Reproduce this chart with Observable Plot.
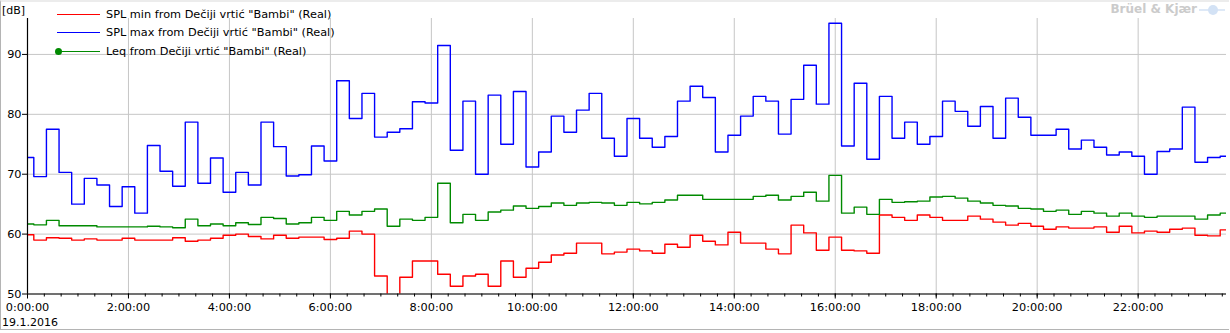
<!DOCTYPE html>
<html>
<head>
<meta charset="utf-8">
<script src="https://cdn.jsdelivr.net/npm/d3@7"></script>
<script src="https://cdn.jsdelivr.net/npm/@observablehq/plot@0.6"></script>
<style>
  html, body { margin: 0; padding: 0; background: #fff; }
  #wrap { position: relative; width: 1230px; height: 333px; overflow: hidden; font-family: "DejaVu Sans", Verdana, sans-serif; font-size: 11px; color: #000; }
  #frame { position: absolute; left: 0; top: 0; width: 1229px; height: 330px; border-left: 1px solid #b4b4b4; border-bottom: 1px solid #b4b4b4; border-top: 2px solid #ececec; box-sizing: border-box; pointer-events: none; }
  .ov { position: absolute; white-space: nowrap; line-height: 1; }
  .leg { position: absolute; left: 57px; height: 14px; display: flex; align-items: center; font-size: 11.3px; }
  .leg .sw { position: relative; width: 43px; height: 0; border-top: 1px solid; margin-right: 6px; }
  .leg .dot { position: absolute; left: -2px; top: -4px; width: 7px; height: 7px; border-radius: 50%; }
  #brand { position: absolute; right: 33px; top: 3px; white-space: nowrap; line-height: 1; font-family: "DejaVu Sans", Verdana, sans-serif; font-weight: bold; font-size: 12px; color: #cbcbcb; }
</style>
</head>
<body>
<div id="wrap">
  <div id="chart"></div>
  <div id="frame"></div>
  <div class="ov" style="left:2px;top:5px;">[dB]</div>
  <div id="legend"></div>
  <div class="ov" style="left:2px;top:317px;">19.1.2016</div>
  <div id="brand">Brüel &amp; Kjær</div>
  <svg class="ov" style="left:1199px;top:4px;" width="26" height="12">
    <line x1="0" y1="6" x2="26" y2="6" stroke="#d3e2f5" stroke-width="1.5"/>
    <circle cx="14" cy="6" r="5" fill="#d3e2f5"/>
  </svg>
</div>
<script>
// ---- data (15-minute values, 19.1.2016, 0:00:00 .. 23:45:00) ----
const startTime = "2016-01-19T00:00:00Z";
const intervalMinutes = 15;

const seriesNames = [
  'SPL min from Dečiji vrtić "Bambi" (Real)',
  'SPL max from Dečiji vrtić "Bambi" (Real)',
  'Leq from Dečiji vrtić "Bambi" (Real)'
];

const splMin = [
  59.9, 59.0, 59.4, 59.3,  59.0, 59.2, 59.0, 59.0,  59.3, 59.0, 59.0, 59.0,  59.4, 58.8, 59.0, 59.3,
  59.8, 60.0, 59.6, 59.2,  59.8, 59.3, 59.5, 59.5,  59.1, 59.3, 60.5, 60.0,  53.0, 48.0, 52.8, 55.5,
  55.5, 53.3, 51.3, 53.0,  53.3, 51.3, 55.5, 52.8,  54.3, 55.3, 56.5, 56.8,  58.5, 58.5, 56.7, 57.0,
  57.5, 57.2, 56.8, 58.3,  57.8, 59.8, 58.8, 58.2,  60.3, 58.5, 58.5, 57.5,  56.7, 61.5, 60.2, 57.3,
  59.5, 57.3, 57.2, 56.8,  63.2, 62.8, 62.3, 63.2,  62.8, 62.3, 62.3, 63.0,  62.5, 62.0, 61.5, 61.8,
  61.3, 60.8, 61.2, 61.0,  61.0, 61.2, 60.3, 61.3,  60.2, 60.5, 60.3, 60.8,  61.0, 59.8, 59.7, 60.7
];

const splMax = [
  72.8, 69.6, 77.5, 70.3,  65.0, 69.3, 68.2, 64.6,  67.9, 63.5, 74.8, 70.5,  68.0, 78.7, 68.5, 72.7,
  67.0, 70.3, 68.2, 78.7,  74.6, 69.7, 69.9, 74.7,  72.2, 85.6, 79.3, 83.5,  76.2, 77.0, 77.6, 82.1,
  81.9, 91.5, 74.0, 82.2,  70.0, 83.2, 75.0, 83.8,  71.2, 73.7, 79.7, 77.0,  80.7, 83.5, 76.0, 73.0,
  79.3, 76.0, 74.5, 76.3,  82.2, 84.7, 82.8, 73.7,  76.5, 79.7, 83.0, 82.2,  76.7, 82.5, 88.2, 81.7,
  95.2, 74.7, 85.2, 72.5,  83.0, 76.0, 78.7, 75.0,  76.3, 82.2, 80.5, 78.0,  81.3, 76.0, 82.7, 79.5,
  76.5, 76.5, 77.5, 74.2,  75.7, 74.5, 73.2, 73.7,  73.0, 70.0, 73.8, 74.2,  81.2, 72.0, 72.8, 73.0
];

const leq = [
  61.7, 61.55, 62.3, 61.4, 61.4, 61.4, 61.2, 61.2,  61.2, 61.2, 61.3, 61.2,  61.05, 62.5, 61.4, 61.7,
  61.4, 61.9, 61.6, 62.8,  62.6, 61.7, 61.9, 62.8,  62.3, 63.8, 63.2, 63.8,  64.2, 61.3, 62.5, 62.3,
  62.8, 68.5, 61.9, 63.3,  62.3, 63.7, 64.0, 64.7,  64.3, 64.6, 65.2, 64.8,  65.2, 65.3, 65.2, 64.8,
  65.3, 65.05, 65.3, 65.7, 66.5, 66.5, 65.8, 65.8,  65.8, 65.8, 66.3, 66.5,  65.7, 66.3, 67.0, 65.5,
  69.8, 63.5, 64.5, 63.3,  65.8, 65.3, 65.4, 65.5,  66.2, 66.3, 66.0, 65.5,  65.2, 64.8, 64.7, 64.3,
  64.2, 63.8, 64.0, 63.3,  63.8, 63.5, 63.0, 63.5,  63.0, 62.8, 63.0, 63.0,  63.0, 62.5, 63.2, 63.5
];

const seriesColors = ["#ff0000", "#0000ff", "#008a00"];
const yTicks = [50, 60, 70, 80, 90];
const yDomain = [50, 96];

// ---- build table ----
const t0 = new Date(startTime);
const timeAt = i => new Date(t0.getTime() + i * intervalMinutes * 60000);
const rows = [];
[splMin, splMax, leq].forEach((vals, s) => {
  vals.forEach((v, i) => rows.push({series: seriesNames[s], time: timeAt(i), value: v}));
});
const tEnd = timeAt(splMin.length - 1);
const majorTicks = d3.utcHour.every(2).range(t0, tEnd);
const minorTicks = d3.utcMinute.every(20).range(t0, tEnd);
const fmt = d3.utcFormat("%-H:%M:%S");

const grid = "#c6c6c6";
const chart = Plot.plot({
  width: 1230,
  height: 333,
  marginLeft: 27,
  marginRight: 4,
  marginTop: 18,
  marginBottom: 39.5,
  style: {fontFamily: "'DejaVu Sans', Verdana, sans-serif", fontSize: "11px", color: "#000", background: "transparent"},
  x: {type: "utc", domain: [t0, tEnd]},
  y: {domain: yDomain},
  color: {domain: seriesNames, range: seriesColors},
  marks: [
    Plot.gridX(majorTicks, {stroke: grid, strokeOpacity: 1}),
    Plot.gridY(yTicks, {stroke: grid, strokeOpacity: 1}),
    Plot.axisX(minorTicks, {tickSize: 3, tickFormat: () => "", label: null, stroke: "#000"}),
    Plot.axisX(majorTicks, {tickSize: 5, tickPadding: 4, tickFormat: fmt, label: null, fontSize: 11.3}),
    Plot.axisY(yTicks, {tickSize: 5, tickPadding: 1, label: null, fontSize: 11.3}),
    Plot.line(rows, {x: "time", y: "value", z: "series", stroke: "series", curve: "step", strokeWidth: 1.4, clip: true}),
    Plot.ruleX([t0], {stroke: "#000", strokeWidth: 1.2}),
    Plot.ruleY([yDomain[0]], {stroke: "#000", strokeWidth: 1.2})
  ]
});
document.getElementById("chart").appendChild(chart);

// ---- legend overlay ----
const leg = document.getElementById("legend");
const rowTops = [7, 25.5, 44];
seriesNames.forEach((name, i) => {
  const r = document.createElement("div");
  r.className = "leg";
  r.style.top = rowTops[i] + "px";
  const sw = document.createElement("span");
  sw.className = "sw";
  sw.style.borderTopColor = seriesColors[i];
  if (i === 2) {
    const d = document.createElement("span");
    d.className = "dot";
    d.style.background = seriesColors[i];
    sw.appendChild(d);
  }
  r.appendChild(sw);
  const t = document.createElement("span");
  t.textContent = name;
  r.appendChild(t);
  leg.appendChild(r);
});
</script>
</body>
</html>
